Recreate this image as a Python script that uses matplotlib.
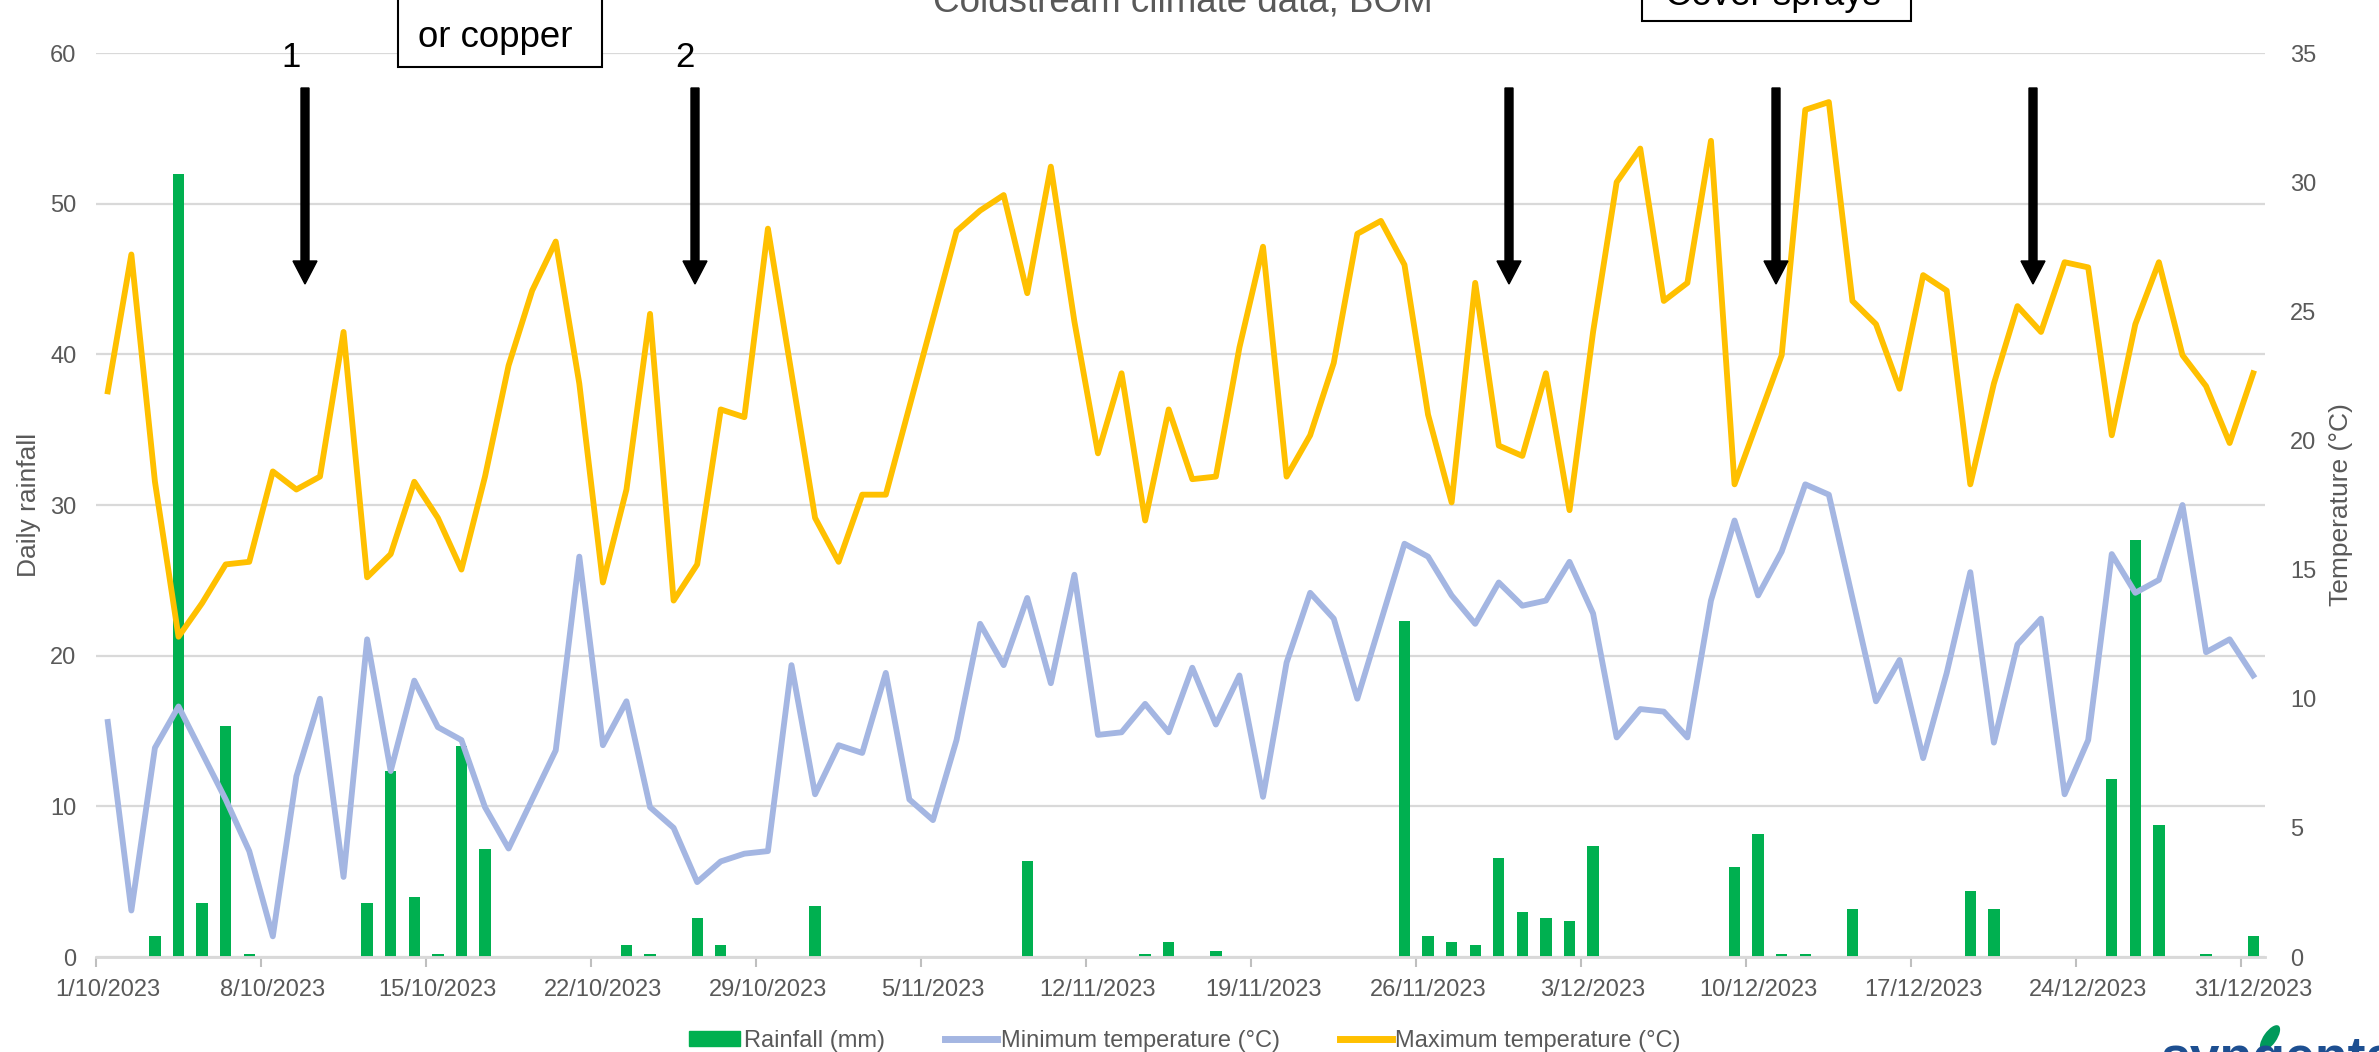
import matplotlib
matplotlib.use("Agg")
import matplotlib.pyplot as plt
from matplotlib.patches import Patch, Rectangle, FancyArrow, Ellipse
from matplotlib.lines import Line2D
import pandas as pd

plt.rcParams['font.family'] = ['Liberation Sans', 'DejaVu Sans']

# daily data, 1 Oct - 31 Dec 2023 (Coldstream, BOM)
dates = pd.date_range("2023-10-01", "2023-12-31", freq="D")

rainfall = [0, 0, 1.4, 52, 3.6, 15.35, 0.2, 0, 0, 0,
            0, 3.6, 12.35, 4.0, 0.2, 14.0, 7.2, 0, 0, 0,
            0, 0, 0.8, 0.2, 0, 2.6, 0.8, 0, 0, 0,
            3.4, 0, 0, 0, 0, 0, 0, 0, 0, 6.4,
            0, 0, 0, 0, 0.2, 1.0, 0, 0.4, 0, 0,
            0, 0, 0, 0, 0, 22.3, 1.4, 1.0, 0.8, 6.6,
            3.0, 2.6, 2.4, 7.35, 0, 0, 0, 0, 0, 6.0,
            8.15, 0.2, 0.2, 0, 3.2, 0, 0, 0, 0, 4.4,
            3.2, 0, 0, 0, 0, 11.8, 27.7, 8.75, 0, 0.2,
            0, 1.4]

min_temp = [9.1, 1.8, 8.1, 9.7, 7.9, 6.1, 4.1, 0.8, 7.0, 10.0,
            3.1, 12.3, 7.2, 10.7, 8.9, 8.4, 5.8, 4.2, 6.1, 8.0,
            15.5, 8.2, 9.9, 5.8, 5.0, 2.9, 3.7, 4.0, 4.1, 11.3,
            6.3, 8.2, 7.9, 11.0, 6.1, 5.3, 8.4, 12.9, 11.3, 13.9,
            10.6, 14.8, 8.6, 8.7, 9.8, 8.7, 11.2, 9.0, 10.9, 6.2,
            11.4, 14.1, 13.1, 10.0, 13.0, 16.0, 15.5, 14.0, 12.9, 14.5,
            13.6, 13.8, 15.3, 13.3, 8.5, 9.6, 9.5, 8.5, 13.8, 16.9,
            14.0, 15.7, 18.3, 17.9, 13.9, 9.9, 11.5, 7.7, 11.0, 14.9,
            8.3, 12.1, 13.1, 6.3, 8.4, 15.6, 14.1, 14.6, 17.5, 11.8,
            12.3, 10.9]

max_temp = [21.9, 27.2, 18.4, 12.4, 13.7, 15.2, 15.3, 18.8, 18.1, 18.6,
            24.2, 14.7, 15.6, 18.4, 17.0, 15.0, 18.6, 22.9, 25.8, 27.7,
            22.2, 14.5, 18.1, 24.9, 13.8, 15.2, 21.2, 20.9, 28.2, 22.6,
            17.0, 15.3, 17.9, 17.9, 21.3, 24.7, 28.1, 28.9, 29.5, 25.7,
            30.6, 24.6, 19.5, 22.6, 16.9, 21.2, 18.5, 18.6, 23.6, 27.5,
            18.6, 20.2, 23.0, 28.0, 28.5, 26.8, 21.0, 17.6, 26.1, 19.8,
            19.4, 22.6, 17.3, 24.2, 30.0, 31.3, 25.4, 26.1, 31.6, 18.3,
            20.8, 23.3, 32.8, 33.1, 25.4, 24.5, 22.0, 26.4, 25.8, 18.3,
            22.2, 25.2, 24.2, 26.9, 26.7, 20.2, 24.5, 26.9, 23.3, 22.1,
            19.9, 22.6]

GREEN = "#00B050"
BLUE = "#A4B6E2"
GOLD = "#FFC000"
GREY = "#595959"
GRID = "#D9D9D9"

W, H = 2379, 1052
fig = plt.figure(figsize=(W / 100, H / 100), dpi=100)
ax = fig.add_axes([96 / W, 1 - 957 / H, (2265 - 96) / W, (957 - 53) / H])
ax2 = ax.twinx()

# rainfall bars on the left axis
ax.bar(dates, rainfall, width=0.48, color=GREEN, zorder=2)
ax.set_ylim(0, 60)
ax.set_yticks(range(0, 61, 10))
ax.yaxis.grid(True, color=GRID, linewidth=1.6, zorder=0)
ax.set_axisbelow(True)

# temperatures on the right axis
ax2.plot(dates, min_temp, color=BLUE, linewidth=4.2, solid_joinstyle="round")
ax2.plot(dates, max_temp, color=GOLD, linewidth=4.2, solid_joinstyle="round")
ax2.set_ylim(0, 35)
ax2.set_yticks(range(0, 36, 5))

one_day = pd.Timedelta(days=1)
ax.set_xlim(dates[0] - one_day / 2, dates[-1] + one_day / 2)
label_dates = dates[::7]
ax.set_xticks(label_dates)
ax.set_xticklabels([f"{d.day}/{d.month}/{d.year}" for d in label_dates])
ax.set_xticks(label_dates - one_day / 2, minor=True)
ax.tick_params(axis="x", which="major", length=0, pad=16, labelsize=17, labelcolor=GREY)
ax.tick_params(axis="x", which="minor", length=7, width=1.5, color="#BFBFBF")
ax.tick_params(axis="y", length=0, pad=14, labelsize=17, labelcolor=GREY)
ax2.tick_params(axis="y", length=0, pad=18, labelsize=17, labelcolor=GREY)

for a in (ax, ax2):
    for side in ("top", "left", "right"):
        a.spines[side].set_visible(False)
    a.spines["bottom"].set_color(GRID)
    a.spines["bottom"].set_linewidth(1.8)

fig.text(29 / W, 1 - 505 / H, "Daily rainfall", rotation=90, ha="center", va="center",
         fontsize=19, color=GREY)
fig.text(2341 / W, 1 - 505 / H, "Temperature (°C)", rotation=90, ha="center", va="center",
         fontsize=19, color=GREY)

# title, cut off by the top edge
fig.text(1183 / W, 1 - 11 / H, "Coldstream climate data, BOM", ha="center", va="baseline",
         fontsize=26.5, color=GREY)

# annotation boxes and arrows (pixel layout)
inch = fig.dpi_scale_trans
fig.add_artist(Rectangle((3.98, (H - 67) / 100), 2.04, 1.0, transform=inch,
                         facecolor="white", edgecolor="black", linewidth=1.5, zorder=5))
fig.text(418 / W, 1 - 47 / H, "or copper", ha="left", va="baseline", fontsize=26.4,
         color="black", zorder=6)
fig.add_artist(Rectangle((16.42, (H - 21) / 100), 2.69, 1.0, transform=inch,
                         facecolor="white", edgecolor="black", linewidth=1.5, zorder=5))
fig.text(1665 / W, 1 - 5 / H, "Cover sprays", ha="left", va="baseline", fontsize=26.4,
         color="black", zorder=6)

fig.text(291 / W, 1 - 67 / H, "1", ha="center", va="baseline", fontsize=25, color="black")
fig.text(685 / W, 1 - 67 / H, "2", ha="center", va="baseline", fontsize=25, color="black")

for xa in (305, 695, 1509, 1776, 2033):
    fig.add_artist(FancyArrow(xa / 100, (H - 88) / 100, 0, -(284 - 88) / 100,
                              width=0.08, head_width=0.24, head_length=0.23,
                              length_includes_head=True, color="black", transform=inch,
                              zorder=6))

# legend along the bottom
handles = [Patch(color=GREEN, label="Rainfall (mm)"),
           Line2D([], [], color=BLUE, linewidth=5, label="Minimum temperature (°C)"),
           Line2D([], [], color=GOLD, linewidth=5, label="Maximum temperature (°C)")]
leg = fig.legend(handles=handles, loc="center", bbox_to_anchor=(0.498, 1 - 1041 / H),
                 ncol=3, frameon=False, fontsize=17, handlelength=2.2, handleheight=0.6,
                 handletextpad=0.15, columnspacing=2.55)
for t in leg.get_texts():
    t.set_color(GREY)

# logo, mostly below the bottom edge
fig.text(2160 / W, 1 - 1074 / H, "syngenta", ha="left", va="baseline", fontsize=38.5,
         fontweight="bold", color="#1D4F91")
fig.add_artist(Ellipse((22.70, (H - 1038) / 100), 0.30, 0.13, angle=55, transform=inch,
                       facecolor="#009A5B", edgecolor="none"))

fig.savefig("out.png", dpi=100)
